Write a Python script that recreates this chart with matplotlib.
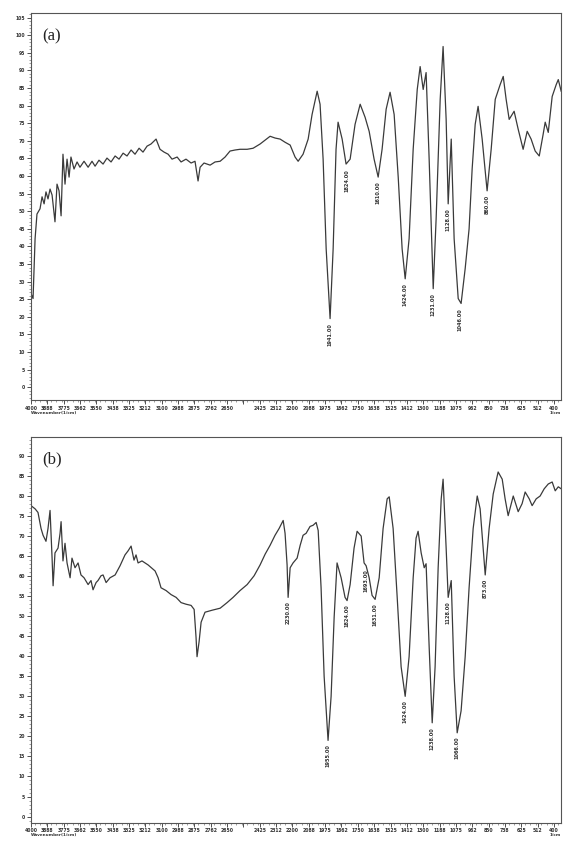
""" Two FTIR transmittance spectra, panels (a) and (b) """

import numpy as np
import matplotlib.pyplot as plt
from matplotlib.ticker import MultipleLocator, FixedLocator

# spectrum (a): wavenumber (1/cm) and transmittance (%T)
wn_a = [4000, 3986, 3972, 3959, 3938, 3924, 3910, 3897, 3883, 3869, 3855, 3835,
        3821, 3807, 3793, 3780, 3766, 3752, 3738, 3725, 3704, 3683, 3663, 3635,
        3607, 3580, 3559, 3532, 3504, 3477, 3449, 3421, 3394, 3366, 3339, 3311,
        3284, 3256, 3229, 3201, 3174, 3139, 3112, 3084, 3056, 3029, 2994, 2967,
        2933, 2898, 2871, 2850, 2836, 2809, 2767, 2733, 2698, 2664, 2630, 2595,
        2561, 2512, 2471, 2423, 2388, 2354, 2320, 2285, 2251, 2216, 2182, 2161,
        2127, 2092, 2065, 2030, 2010, 1989, 1968, 1941, 1920, 1900, 1886, 1858,
        1831, 1803, 1769, 1734, 1700, 1672, 1638, 1610, 1583, 1555, 1528, 1500,
        1472, 1445, 1424, 1397, 1369, 1341, 1321, 1300, 1280, 1259, 1231, 1211,
        1183, 1163, 1142, 1128, 1107, 1087, 1059, 1039, 1011, 984, 963, 942,
        922, 894, 860, 832, 804, 770, 749, 729, 708, 674, 646, 612, 584, 557,
        529, 501, 474, 460, 439, 412, 384, 370, 350]
t_a = [26.6, 25.2, 42.2, 49.2, 50.7, 54.1, 52.1, 55.5, 53.5, 56.3, 54.6, 47.0,
       57.7, 55.8, 48.7, 66.2, 57.7, 64.8, 59.7, 65.4, 62.0, 64.0, 62.5, 64.2,
       62.5, 64.2, 62.8, 64.5, 63.4, 65.1, 64.0, 65.7, 64.8, 66.5, 65.7, 67.4,
       66.2, 67.9, 66.8, 68.5, 69.1, 70.5, 67.6, 66.8, 66.2, 64.8, 65.4, 64.0,
       64.8, 63.7, 64.2, 58.6, 62.5, 63.7, 63.1, 64.0, 64.2, 65.4, 67.1, 67.4,
       67.6, 67.6, 67.9, 69.1, 70.2, 71.3, 70.8, 70.5, 69.6, 68.8, 65.4, 64.2,
       66.2, 70.5, 77.5, 84.1, 80.4, 64.8, 39.3, 19.5, 39.3, 67.6, 75.3, 70.5,
       63.4, 64.8, 74.7, 80.4, 76.7, 72.7, 64.8, 59.7, 67.6, 79.0, 83.8, 77.5,
       59.7, 39.3, 30.8, 42.2, 67.6, 84.6, 91.1, 84.6, 89.4, 64.8, 28.0, 47.8,
       81.8, 96.8, 76.1, 52.1, 70.5, 42.2, 25.2, 23.8, 33.7, 45.0, 62.0, 74.7,
       79.8, 70.5, 55.8, 67.6, 81.8, 86.0, 88.3, 81.8, 76.1, 78.4, 73.3, 67.6,
       72.7, 70.5, 67.1, 65.7, 71.9, 75.3, 72.4, 82.6, 86.0, 87.4, 84.1]

# spectrum (b)
wn_b = [4000, 3972, 3952, 3931, 3917, 3897, 3883, 3869, 3855, 3848, 3835, 3814,
        3800, 3793, 3780, 3766, 3752, 3731, 3718, 3697, 3676, 3656, 3635, 3607,
        3587, 3573, 3552, 3539, 3518, 3504, 3483, 3456, 3421, 3387, 3353, 3332,
        3311, 3291, 3277, 3263, 3236, 3194, 3146, 3125, 3105, 3070, 3036, 3001,
        2967, 2933, 2898, 2877, 2864, 2857, 2843, 2829, 2802, 2753, 2698, 2650,
        2609, 2561, 2512, 2464, 2423, 2388, 2354, 2320, 2292, 2264, 2251, 2237,
        2230, 2216, 2196, 2168, 2147, 2127, 2106, 2079, 2058, 2037, 2023, 2003,
        1982, 1955, 1934, 1913, 1893, 1865, 1838, 1824, 1803, 1776, 1755, 1727,
        1707, 1693, 1672, 1652, 1631, 1603, 1576, 1548, 1534, 1507, 1479, 1452,
        1424, 1397, 1369, 1349, 1335, 1314, 1293, 1280, 1259, 1238, 1218, 1197,
        1176, 1163, 1142, 1128, 1107, 1087, 1066, 1039, 1011, 984, 956, 928,
        908, 873, 846, 818, 784, 756, 736, 715, 680, 646, 619, 598, 570, 550,
        522, 495, 467, 439, 412, 391, 370, 350]
t_b = [77.6, 76.8, 75.9, 71.9, 70.2, 68.7, 71.9, 76.4, 64.5, 57.6, 65.8, 67.0,
       70.7, 73.6, 63.8, 68.2, 63.3, 59.6, 64.5, 62.1, 63.3, 60.3, 59.6, 57.9,
       58.9, 56.6, 58.4, 58.9, 60.1, 60.3, 58.4, 59.6, 60.3, 62.6, 65.3, 66.3,
       67.5, 64.0, 65.3, 63.3, 63.8, 62.8, 61.3, 59.6, 57.1, 56.4, 55.4, 54.7,
       53.4, 53.0, 52.7, 51.7, 44.8, 39.9, 43.6, 48.5, 51.0, 51.5, 52.0, 53.4,
       54.7, 56.4, 57.9, 60.1, 62.8, 65.5, 67.7, 70.2, 71.9, 73.9, 70.7, 62.8,
       54.7, 62.1, 63.3, 64.5, 67.7, 70.2, 70.7, 72.4, 72.7, 73.4, 71.4, 57.1,
       35.0, 19.0, 30.0, 49.8, 63.3, 59.6, 54.7, 53.9, 57.9, 67.0, 71.2, 70.0,
       63.3, 62.6, 59.6, 55.2, 54.2, 59.6, 71.9, 79.3, 79.8, 71.9, 54.7, 37.4,
       30.0, 39.9, 59.6, 69.5, 71.2, 65.8, 62.1, 63.1, 42.4, 23.4, 37.4, 62.1,
       79.3, 84.2, 67.0, 54.7, 58.9, 35.0, 20.9, 26.4, 39.9, 57.1, 71.9, 80.0,
       76.8, 60.3, 71.9, 80.5, 86.0, 84.2, 79.3, 75.1, 80.0, 76.1, 78.1, 81.0,
       79.3, 77.6, 79.3, 80.0, 81.8, 83.0, 83.5, 81.3, 82.3, 81.8]

# labelled bands
peaks_a = [1941, 1824, 1610, 1424, 1231, 1128, 1046, 860]
peaks_a_t = [19.5, 63.0, 59.7, 30.8, 28.0, 52.1, 23.5, 55.8]
peaks_b = [2230, 1955, 1824, 1693, 1631, 1424, 1238, 1128, 1066, 873]
peaks_b_t = [54.7, 19.0, 53.9, 62.6, 54.2, 30.0, 23.4, 54.7, 20.9, 60.3]

x_ticks = [4000 - 112.5 * k for k in range(33)]
x_labels = ['%d' % round(v) for v in x_ticks]
x_labels[13] = ''

line_color = '#3a3a3a'

fig = plt.figure(figsize=(5.64, 8.48), dpi=100)
ax_a = fig.add_axes([0.055, 0.528, 0.940, 0.457])
ax_b = fig.add_axes([0.055, 0.030, 0.940, 0.455])


def style(ax, ylim, ymax_tick, tag):
    ax.set_xlim(4000, 350)
    ax.set_ylim(*ylim)
    ax.xaxis.set_major_locator(FixedLocator(x_ticks))
    ax.set_xticklabels(x_labels)
    ax.xaxis.set_minor_locator(MultipleLocator(37.5))
    ax.yaxis.set_major_locator(FixedLocator(np.arange(0, ymax_tick + 1, 5)))
    ax.yaxis.set_minor_locator(MultipleLocator(1))
    ax.tick_params(which='major', direction='out', length=3, width=0.6,
                   labelsize=3.3, pad=1.2, colors='#333333')
    ax.tick_params(which='minor', direction='out', length=1.5, width=0.4,
                   colors='#555555')
    for lab in ax.get_xticklabels() + ax.get_yticklabels():
        lab.set_fontweight('bold')
    for sp in ax.spines.values():
        sp.set_color('#555555')
        sp.set_linewidth(0.8)
    ax.text(0.021, 0.94, tag, transform=ax.transAxes, va='center', ha='left',
            family='Liberation Serif', fontsize=12, color='#222222')
    ax.text(0.0, -0.027, 'Wavenumber(1/cm)', transform=ax.transAxes,
            fontsize=3.0, fontweight='bold', color='#333333', va='top')
    ax.text(1.0, -0.027, '1/cm', transform=ax.transAxes, ha='right',
            fontsize=3.0, fontweight='bold', color='#333333', va='top')


def mark_peaks(ax, wns, ts, offset):
    for w, t in zip(wns, ts):
        ax.text(w, t - offset, '%.2f' % w, rotation=90, ha='center', va='top',
                fontsize=3.6, fontweight='bold', color='#333333')


ax_a.plot(wn_a, t_a, color=line_color, lw=0.9)
style(ax_a, (-3.7, 106.4), 105, '(a)')
mark_peaks(ax_a, peaks_a, peaks_a_t, 1.2)

ax_b.plot(wn_b, t_b, color=line_color, lw=0.9)
style(ax_b, (-1.5, 94.8), 90, '(b)')
mark_peaks(ax_b, peaks_b, peaks_b_t, 1.0)

fig.savefig('out.png', dpi=100, facecolor='white')
